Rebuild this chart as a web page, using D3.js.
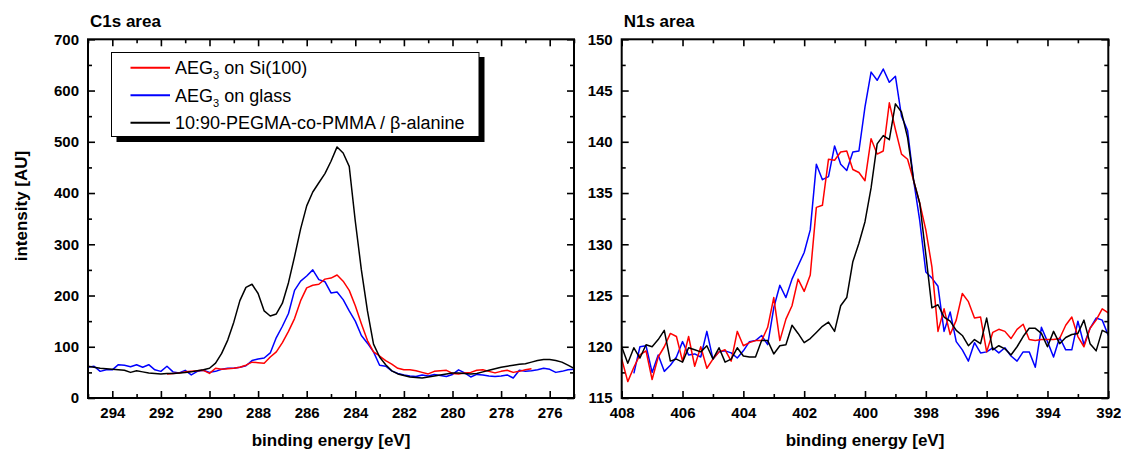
<!DOCTYPE html>
<html lang="en">
<head>
<meta charset="UTF-8">
<title>XPS C1s / N1s</title>
<script src="https://cdn.jsdelivr.net/npm/d3@7"></script>
<style>
  body { margin: 0; background: #fff; }
  text { font-family: "Liberation Sans", Arial, sans-serif; }
</style>
</head>
<body>
<script>
const width = 1121, height = 453

// C1s area, sampled every 0.25 eV (binding energy falls along the array)
const c1sStep = 0.25
const c1sRedStart = 291.75
const c1sRed = [47, 48, 49, 51, 52, 53, 54, 48, 58, 56, 57, 58, 60, 64, 70, 69, 68, 80, 90, 108,
  130, 155, 190, 215, 220, 222, 232, 234, 240, 228, 210, 180, 145, 112, 90, 82, 73, 66, 58, 55,
  55, 53, 50, 47, 52, 53, 54, 48, 47, 49, 50, 54, 55, 52, 49, 52, 54, 50, 52, 55, 57]
const c1sBlueStart = 295
const c1sBlue = [60, 62, 52, 55, 55, 65, 64, 61, 65, 60, 65, 55, 52, 62, 51, 49, 54, 45, 52, 54,
  50, 52, 56, 58, 58, 60, 63, 73, 76, 78, 88, 118, 140, 165, 210, 228, 238, 250, 231, 227,
  205, 207, 192, 170, 150, 122, 107, 90, 64, 62, 53, 48, 45, 43, 42, 45, 43, 46, 44, 42,
  46, 55, 49, 41, 46, 45, 43, 42, 43, 45, 39, 54, 52, 53, 55, 58, 56, 50, 52, 55, 56]
const c1sBlackStart = 295
const c1sBlack = [62, 60, 58, 57, 56, 55, 54, 50, 53, 51, 49, 48, 47, 48, 48, 49, 50, 51, 53, 55,
  58, 68, 87, 113, 148, 190, 216, 222, 204, 170, 160, 164, 185, 225, 276, 330, 375, 402, 420, 438,
  462, 490, 478, 452, 345, 250, 170, 105, 80, 65, 53, 47, 44, 41, 40, 39, 41, 43, 45, 47,
  49, 49, 48, 47, 48, 51, 54, 57, 60, 62, 64, 66, 67, 70, 73, 75, 75, 73, 70, 64, 58]

// N1s area, sampled every 0.2 eV
const n1sStep = 0.2
const n1sRedStart = 408
const n1sRed = [118.8, 116.6, 118.0, 119.2, 119.6, 116.8, 119.0, 120.0, 121.3, 121.0,
  118.6, 121.0, 118.1, 120.0, 117.9, 118.8, 119.5, 119.7, 118.6, 121.5,
  120.1, 120.4, 120.6, 120.6, 121.9, 124.8, 120.6, 122.7, 124.0, 126.6,
  125.4, 127.0, 133.6, 133.8, 138.3, 138.2, 139.0, 139.1, 137.3, 137.0,
  136.2, 140.3, 138.8, 139.1, 143.8, 141.2, 138.8, 138.3, 136.2, 134.0,
  131.4, 127.8, 121.5, 123.7, 121.2, 122.6, 125.2, 124.4, 122.8, 122.9,
  119.5, 121.4, 121.7, 121.5, 120.8, 121.7, 122.2, 120.7, 120.6, 120.7,
  120.7, 120.7, 120.8, 122.1, 122.9, 121.0, 120.0, 121.8, 122.6, 123.7, 123.3]
const n1sBlueStart = 407.6
const n1sBlue = [117.4, 120.0, 120.1, 117.5, 119.2, 117.6, 118.2, 119.0, 120.5, 119.2,
  119.3, 119.0, 121.5, 118.8, 119.5, 119.6, 119.4, 118.9, 119.6, 120.5,
  120.6, 121.1, 120.2, 123.8, 126.0, 124.8, 126.6, 127.9, 129.2, 131.4,
  137.8, 136.3, 136.6, 139.6, 137.8, 137.2, 139.0, 139.1, 143.4, 146.8,
  146.0, 147.1, 145.8, 146.4, 142.5, 141.1, 136.2, 132.3, 127.3, 126.7,
  125.9, 121.5, 123.4, 120.5, 119.7, 118.6, 120.4, 119.4, 119.5, 119.9,
  119.4, 119.9, 119.1, 118.6, 119.5, 119.5, 118.0, 121.9, 120.5, 119.0,
  120.9, 119.7, 119.7, 122.5, 120.2, 121.8, 122.8, 122.6, 121.1]
const n1sBlackStart = 408
const n1sBlack = [120.0, 118.4, 119.9, 118.9, 120.2, 120.0, 120.7, 121.6, 118.6, 118.8,
  118.5, 119.9, 119.7, 119.5, 120.1, 118.8, 119.9, 118.5, 118.8, 119.9,
  119.1, 119.0, 119.0, 120.6, 120.6, 119.3, 120.1, 120.2, 122.1, 121.3,
  120.4, 120.8, 121.4, 122.0, 122.4, 121.5, 124.0, 124.8, 128.3, 130.1,
  132.2, 135.5, 139.8, 140.6, 140.2, 143.7, 142.9, 140.4, 136.2, 134.0,
  129.0, 123.8, 124.1, 122.9, 122.5, 121.6, 121.1, 120.1, 120.7, 120.3,
  122.8, 119.7, 120.1, 119.8, 119.2, 120.0, 121.0, 121.8, 121.8, 121.3,
  120.0, 121.5, 120.3, 120.9, 121.2, 121.3, 122.6, 120.3, 119.6, 121.6, 121.3]

const seriesColors = ["#ff0000", "#0000ff", "#000000"]

const c1sTicksX = [294, 292, 290, 288, 286, 284, 282, 280, 278, 276]
const c1sMinorX = [295, 293, 291, 289, 287, 285, 283, 281, 279, 277, 275]
const c1sTicksY = [0, 100, 200, 300, 400, 500, 600, 700]
const c1sMinorY = [50, 150, 250, 350, 450, 550, 650]
const n1sTicksX = [408, 406, 404, 402, 400, 398, 396, 394, 392]
const n1sMinorX = [407, 405, 403, 401, 399, 397, 395, 393]
const n1sTicksY = [115, 120, 125, 130, 135, 140, 145, 150]
const n1sMinorY = [117.5, 122.5, 127.5, 132.5, 137.5, 142.5, 147.5]

const svg = d3.select("body").append("svg")
    .attr("width", width)
    .attr("height", height)

function pts(start, step, values) {
    return values.map((v, i) => [start - i * step, v])
}

function drawPanel(o) {
    const top = 39.3, bottom = 398
    const x = d3.scaleLinear().domain(o.xDomain).range([o.left, o.right])
    const y = d3.scaleLinear().domain(o.yDomain).range([bottom, top])
    const g = svg.append("g")

    const styleAxis = sel => {
        sel.select(".domain").remove()
        sel.selectAll("line").attr("stroke", "#000").attr("stroke-width", 1.6)
        sel.attr("font-size", 15).attr("font-weight", "bold")
            .attr("font-family", '"Liberation Sans", Arial, sans-serif')
        sel.selectAll("text").attr("fill", "#000")
    }

    // major + minor ticks, inward on all four sides
    g.append("g").attr("transform", `translate(0,${bottom})`)
        .call(d3.axisBottom(x).tickValues(o.ticksX).tickSize(-7).tickPadding(9).tickFormat(d3.format("d")))
        .call(styleAxis)
    g.append("g").attr("transform", `translate(0,${bottom})`)
        .call(d3.axisBottom(x).tickValues(o.minorX).tickSize(-4).tickFormat(""))
        .call(styleAxis)
    g.append("g").attr("transform", `translate(0,${top})`)
        .call(d3.axisTop(x).tickValues(o.ticksX).tickSize(-7).tickFormat(""))
        .call(styleAxis)
    g.append("g").attr("transform", `translate(0,${top})`)
        .call(d3.axisTop(x).tickValues(o.minorX).tickSize(-4).tickFormat(""))
        .call(styleAxis)
    g.append("g").attr("transform", `translate(${o.left},0)`)
        .call(d3.axisLeft(y).tickValues(o.ticksY).tickSize(-7).tickPadding(9).tickFormat(d3.format("d")))
        .call(styleAxis)
    g.append("g").attr("transform", `translate(${o.left},0)`)
        .call(d3.axisLeft(y).tickValues(o.minorY).tickSize(-4).tickFormat(""))
        .call(styleAxis)
    g.append("g").attr("transform", `translate(${o.right},0)`)
        .call(d3.axisRight(y).tickValues(o.ticksY).tickSize(-7).tickFormat(""))
        .call(styleAxis)
    g.append("g").attr("transform", `translate(${o.right},0)`)
        .call(d3.axisRight(y).tickValues(o.minorY).tickSize(-4).tickFormat(""))
        .call(styleAxis)

    g.append("clipPath").attr("id", o.id + "-clip")
        .append("rect")
        .attr("x", o.left).attr("y", top)
        .attr("width", o.right - o.left).attr("height", bottom - top)

    const line = d3.line().x(d => x(d[0])).y(d => y(d[1]))
    g.append("g").attr("clip-path", `url(#${o.id}-clip)`)
        .selectAll("path")
        .data(o.series)
        .enter()
        .append("path")
        .attr("fill", "none")
        .attr("stroke", d => d.color)
        .attr("stroke-width", 1.5)
        .attr("stroke-linejoin", "round")
        .attr("d", d => line(d.points))

    g.append("rect")
        .attr("x", o.left).attr("y", top)
        .attr("width", o.right - o.left).attr("height", bottom - top)
        .attr("fill", "none").attr("stroke", "#000").attr("stroke-width", 2)

    g.append("text")
        .attr("x", o.left + 2).attr("y", 27)
        .attr("font-size", 17).attr("font-weight", "bold")
        .text(o.title)

    g.append("text")
        .attr("x", (o.left + o.right) / 2).attr("y", 446)
        .attr("text-anchor", "middle")
        .attr("font-size", 17).attr("font-weight", "bold")
        .text("binding energy [eV]")

    return { x, y, g }
}

drawPanel({
    id: "c1s", title: "C1s area",
    left: 88, right: 574,
    xDomain: [295, 275], yDomain: [0, 700],
    ticksX: c1sTicksX, minorX: c1sMinorX, ticksY: c1sTicksY, minorY: c1sMinorY,
    series: [
        { color: seriesColors[1], points: pts(c1sBlueStart, c1sStep, c1sBlue) },
        { color: seriesColors[0], points: pts(c1sRedStart, c1sStep, c1sRed) },
        { color: seriesColors[2], points: pts(c1sBlackStart, c1sStep, c1sBlack) }
    ]
})

drawPanel({
    id: "n1s", title: "N1s area",
    left: 621.7, right: 1108.3,
    xDomain: [408, 392], yDomain: [115, 150],
    ticksX: n1sTicksX, minorX: n1sMinorX, ticksY: n1sTicksY, minorY: n1sMinorY,
    series: [
        { color: seriesColors[1], points: pts(n1sBlueStart, n1sStep, n1sBlue) },
        { color: seriesColors[0], points: pts(n1sRedStart, n1sStep, n1sRed) },
        { color: seriesColors[2], points: pts(n1sBlackStart, n1sStep, n1sBlack) }
    ]
})

// y axis title
svg.append("text")
    .attr("transform", "translate(27,206) rotate(-90)")
    .attr("text-anchor", "middle")
    .attr("font-size", 17).attr("font-weight", "bold")
    .text("intensity [AU]")

// legend with drop shadow
const lg = svg.append("g")
lg.append("rect").attr("x", 116.5).attr("y", 57).attr("width", 368).attr("height", 85).attr("fill", "#000")
lg.append("rect").attr("x", 111.5).attr("y", 52.5).attr("width", 367.5).attr("height", 84)
    .attr("fill", "#fff").attr("stroke", "#000").attr("stroke-width", 1)

const legendRows = [
    { color: seriesColors[0], parts: ["AEG", "3", " on Si(100)"] },
    { color: seriesColors[1], parts: ["AEG", "3", " on glass"] },
    { color: seriesColors[2], parts: ["10:90-PEGMA-co-PMMA / β-alanine"] }
]
legendRows.forEach((r, i) => {
    const ly = 67.7 + i * 27.5
    lg.append("line").attr("x1", 130.5).attr("x2", 170).attr("y1", ly).attr("y2", ly)
        .attr("stroke", r.color).attr("stroke-width", 2)
    const t = lg.append("text").attr("x", 175).attr("y", ly + 6.3).attr("font-size", 18)
    if (r.parts.length === 1) {
        t.text(r.parts[0])
    } else {
        t.append("tspan").text(r.parts[0])
        t.append("tspan").attr("font-size", 11).attr("dy", 5).text(r.parts[1])
        t.append("tspan").attr("dy", -5).text(r.parts[2])
    }
})
</script>
</body>
</html>
